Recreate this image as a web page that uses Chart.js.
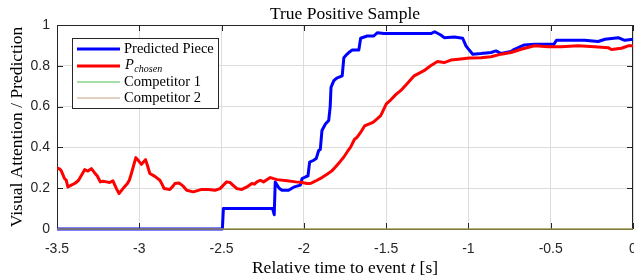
<!DOCTYPE html>
<html>
<head>
<meta charset="utf-8">
<script src="https://cdn.jsdelivr.net/npm/chart.js@4/dist/chart.umd.min.js"></script>
<style>
  html, body { margin: 0; padding: 0; background: #ffffff; }
  #wrap { width: 634px; height: 280px; }
</style>
</head>
<body>
<div id="wrap"><canvas id="c" width="634" height="280"></canvas></div>
<script>
const chartTitle = 'True Positive Sample';
const xAxisTitle = ['Relative time to event ', 't', ' [s]'];
const yAxisTitle = 'Visual Attention / Prediction';
const seriesLabels = ['Predicted Piece', 'P', 'Competitor 1', 'Competitor 2'];
const xTickValues = [-3.5, -3, -2.5, -2, -1.5, -1, -0.5, 0];
const xTickLabels = ['-3.5', '-3', '-2.5', '-2', '-1.5', '-1', '-0.5', '0'];
const yTickValues = [0, 0.2, 0.4, 0.6, 0.8, 1];
const yTickLabels = ['0', '0.2', '0.4', '0.6', '0.8', '1'];

const tBlue = [-3.5, -2.495, -2.489, -2.19, -2.18, -2.174, -2.15, -2.133, -2.093, -2.062, -2.042, -2.021, -2.011, -1.991, -1.975, -1.965, -1.94, -1.925, -1.91, -1.9, -1.89, -1.869, -1.849, -1.84, -1.835, -1.818, -1.80, -1.767, -1.757, -1.74, -1.727, -1.706, -1.666, -1.655, -1.615, -1.575, -1.554, -1.513, -1.4, -1.3, -1.228, -1.205, -1.168, -1.147, -1.086, -1.035, -1.015, -0.995, -0.974, -0.924, -0.863, -0.832, -0.802, -0.741, -0.721, -0.66, -0.599, -0.48, -0.465, -0.395, -0.294, -0.212, -0.17, -0.09, -0.05, 0];
const blue = [0, 0, 0.10, 0.10, 0.07, 0.23, 0.20, 0.19, 0.19, 0.205, 0.21, 0.215, 0.247, 0.255, 0.26, 0.328, 0.337, 0.345, 0.385, 0.39, 0.483, 0.515, 0.532, 0.60, 0.694, 0.727, 0.74, 0.751, 0.84, 0.855, 0.865, 0.877, 0.877, 0.935, 0.946, 0.946, 0.962, 0.958, 0.958, 0.958, 0.958, 0.967, 0.951, 0.938, 0.941, 0.935, 0.898, 0.877, 0.857, 0.86, 0.865, 0.873, 0.86, 0.87, 0.881, 0.902, 0.906, 0.906, 0.925, 0.925, 0.925, 0.919, 0.93, 0.938, 0.925, 0.93];

const tRed = [-3.5, -3.485, -3.474, -3.454, -3.444, -3.434, -3.413, -3.393, -3.373, -3.363, -3.345, -3.332, -3.312, -3.291, -3.271, -3.255, -3.237, -3.22, -3.2, -3.18, -3.16, -3.139, -3.123, -3.099, -3.072, -3.06, -3.048, -3.021, -3.003, -2.987, -2.962, -2.95, -2.936, -2.905, -2.875, -2.862, -2.849, -2.814, -2.795, -2.784, -2.759, -2.733, -2.712, -2.672, -2.621, -2.58, -2.54, -2.509, -2.489, -2.469, -2.449, -2.438, -2.407, -2.377, -2.346, -2.316, -2.3, -2.285, -2.265, -2.245, -2.204, -2.163, -2.102, -2.05, -2.021, -1.98, -1.96, -1.94, -1.92, -1.89, -1.859, -1.83, -1.808, -1.78, -1.757, -1.735, -1.716, -1.692, -1.676, -1.65, -1.631, -1.58, -1.555, -1.533, -1.499, -1.473, -1.44, -1.412, -1.37, -1.33, -1.27, -1.23, -1.188, -1.147, -1.107, -1.046, -0.995, -0.924, -0.863, -0.802, -0.741, -0.68, -0.599, -0.513, -0.436, -0.334, -0.233, -0.151, -0.131, -0.07, -0.029, 0];
const red = [0.30, 0.295, 0.285, 0.247, 0.240, 0.206, 0.215, 0.223, 0.235, 0.247, 0.272, 0.291, 0.284, 0.296, 0.275, 0.26, 0.231, 0.234, 0.231, 0.228, 0.236, 0.198, 0.174, 0.198, 0.223, 0.24, 0.272, 0.35, 0.333, 0.317, 0.34, 0.31, 0.272, 0.258, 0.239, 0.22, 0.198, 0.194, 0.21, 0.223, 0.226, 0.21, 0.19, 0.182, 0.194, 0.194, 0.19, 0.198, 0.215, 0.231, 0.228, 0.22, 0.198, 0.194, 0.206, 0.223, 0.22, 0.231, 0.239, 0.231, 0.252, 0.242, 0.236, 0.231, 0.229, 0.223, 0.223, 0.231, 0.239, 0.252, 0.268, 0.285, 0.304, 0.33, 0.353, 0.38, 0.401, 0.44, 0.45, 0.48, 0.505, 0.523, 0.54, 0.556, 0.613, 0.632, 0.66, 0.678, 0.715, 0.751, 0.776, 0.80, 0.821, 0.816, 0.828, 0.833, 0.838, 0.84, 0.844, 0.857, 0.865, 0.881, 0.898, 0.893, 0.893, 0.898, 0.893, 0.889, 0.880, 0.886, 0.898, 0.898];

const tComp = [-3.5, 0];
const comp1 = [0, 0];
const comp2 = [0, 0];

const colors = ['#0000ff', '#ff0000', '#4fbf4f', '#c08050'];
const widths = [3, 3, 1, 1];

function pts(ts, vs) { return ts.map((t, i) => ({ x: t, y: vs[i] })); }

const SERIF = '"Liberation Serif", "DejaVu Serif", serif';
const SANS = '"Liberation Sans", Arial, sans-serif';
const TFS = 17.5;

const decor = {
  id: 'decor',
  beforeDatasetsDraw(chart) {
    const { ctx, chartArea: a } = chart;
    ctx.save();
    ctx.strokeStyle = '#262626';
    ctx.lineWidth = 1;
    ctx.strokeRect(Math.round(a.left) + 0.5, Math.round(a.top) + 0.5, Math.round(a.right - a.left) - 1, Math.round(a.bottom - a.top));
    const xs = chart.scales.x, ys = chart.scales.y;
    ctx.beginPath();
    xTickValues.forEach(v => {
      const px = Math.round(xs.getPixelForValue(v)) + 0.5;
      ctx.moveTo(px, a.bottom); ctx.lineTo(px, a.bottom - 6);
      ctx.moveTo(px, a.top); ctx.lineTo(px, a.top + 6);
    });
    yTickValues.forEach(v => {
      const py = Math.round(ys.getPixelForValue(v)) + 0.5;
      ctx.moveTo(a.left, py); ctx.lineTo(a.left + 6, py);
      ctx.moveTo(a.right, py); ctx.lineTo(a.right - 6, py);
    });
    ctx.stroke();
    ctx.restore();
  },
  afterDraw(chart) {
    const { ctx, chartArea: a } = chart;
    const cx = (a.left + a.right) / 2;
    ctx.save();
    ctx.fillStyle = '#000';
    ctx.font = TFS + 'px ' + SERIF;
    ctx.textAlign = 'center';
    ctx.textBaseline = 'alphabetic';
    ctx.fillText(chartTitle, cx, 19);
    ctx.textAlign = 'left';
    const fN = TFS + 'px ' + SERIF, fI = 'italic ' + TFS + 'px ' + SERIF;
    ctx.font = fN; const w0 = ctx.measureText(xAxisTitle[0]).width;
    ctx.font = fI; const w1 = ctx.measureText(xAxisTitle[1]).width;
    ctx.font = fN; const w2 = ctx.measureText(xAxisTitle[2]).width;
    let x0 = cx - (w0 + w1 + w2) / 2;
    const by = 273;
    ctx.font = fN; ctx.fillText(xAxisTitle[0], x0, by);
    ctx.font = fI; ctx.fillText(xAxisTitle[1], x0 + w0, by);
    ctx.font = fN; ctx.fillText(xAxisTitle[2], x0 + w0 + w1, by);
    ctx.save();
    ctx.translate(22, (a.top + a.bottom) / 2);
    ctx.rotate(-Math.PI / 2);
    ctx.textAlign = 'center';
    ctx.font = TFS + 'px ' + SERIF;
    ctx.fillText(yAxisTitle, 0, 0);
    ctx.restore();
    // legend
    const lx = 72.5, ly = 38.5, lw = 146, lh = 70;
    ctx.fillStyle = '#fff';
    ctx.fillRect(lx, ly, lw, lh);
    ctx.strokeStyle = '#262626';
    ctx.lineWidth = 1;
    ctx.strokeRect(lx, ly, lw, lh);
    const rows = [49, 66, 82, 98];
    const legendColors = [colors[0], colors[1], colors[2], '#c8a080'];
    rows.forEach((ry, i) => {
      ctx.strokeStyle = legendColors[i];
      ctx.lineWidth = widths[i];
      ctx.beginPath();
      ctx.moveTo(77, ry); ctx.lineTo(120, ry);
      ctx.stroke();
      ctx.fillStyle = '#000';
      ctx.textBaseline = 'middle';
      ctx.textAlign = 'left';
      if (i === 1) {
        ctx.font = 'italic 14.5px ' + SERIF;
        ctx.fillText(seriesLabels[1], 125, ry - 1);
        const pw = ctx.measureText(seriesLabels[1]).width;
        ctx.font = 'italic 10px ' + SERIF;
        ctx.fillText('chosen', 125 + pw + 0.5, ry + 3);
      } else {
        ctx.font = '14.5px ' + SERIF;
        ctx.fillText(seriesLabels[i], 124, ry);
      }
    });
    ctx.restore();
  }
};

new Chart(document.getElementById('c'), {
  type: 'line',
  data: {
    datasets: [
      { label: seriesLabels[3], data: pts(tComp, comp2), borderColor: colors[3], borderWidth: 1, pointRadius: 0, order: 0, clip: false },
      { label: seriesLabels[2], data: pts(tComp, comp1), borderColor: colors[2], borderWidth: 1, pointRadius: 0, order: 1, clip: false },
      { label: 'P_chosen', data: pts(tRed, red), borderColor: colors[1], borderWidth: 3, pointRadius: 0, order: 2, clip: 0 },
      { label: seriesLabels[0], data: pts(tBlue, blue), borderColor: colors[0], borderWidth: 3, pointRadius: 0, order: 3, clip: false }
    ]
  },
  options: {
    responsive: false,
    animation: false,
    layout: { padding: { top: 25, right: 1, left: 0, bottom: 0 } },
    plugins: { legend: { display: false }, title: { display: false }, tooltip: { enabled: false } },
    elements: { line: { tension: 0, borderJoinStyle: 'round', borderCapStyle: 'butt' } },
    scales: {
      x: {
        type: 'linear', min: -3.5, max: 0,
        afterBuildTicks(s) { s.ticks = xTickValues.map(v => ({ value: v })); },
        afterFit(s) { s.height = 51; s.paddingLeft = 0; s.paddingRight = 0; },
        ticks: {
          callback: (v) => xTickLabels[xTickValues.indexOf(v)],
          font: { family: SANS, size: 14 }, color: '#262626', padding: 12, maxRotation: 0, autoSkip: false
        },
        grid: { color: '#dcdcdc', drawTicks: false, lineWidth: 1 },
        border: { display: false }
      },
      y: {
        type: 'linear', min: 0, max: 1,
        afterBuildTicks(s) { s.ticks = yTickValues.map(v => ({ value: v })); },
        afterFit(s) { s.width = 57; s.paddingTop = 0; s.paddingBottom = 0; },
        ticks: {
          callback: (v) => yTickLabels[yTickValues.indexOf(v)],
          font: { family: SANS, size: 14 }, color: '#262626', padding: 7
        },
        grid: { color: '#dcdcdc', drawTicks: false, lineWidth: 1 },
        border: { display: false }
      }
    }
  },
  plugins: [decor]
});
</script>
</body>
</html>
